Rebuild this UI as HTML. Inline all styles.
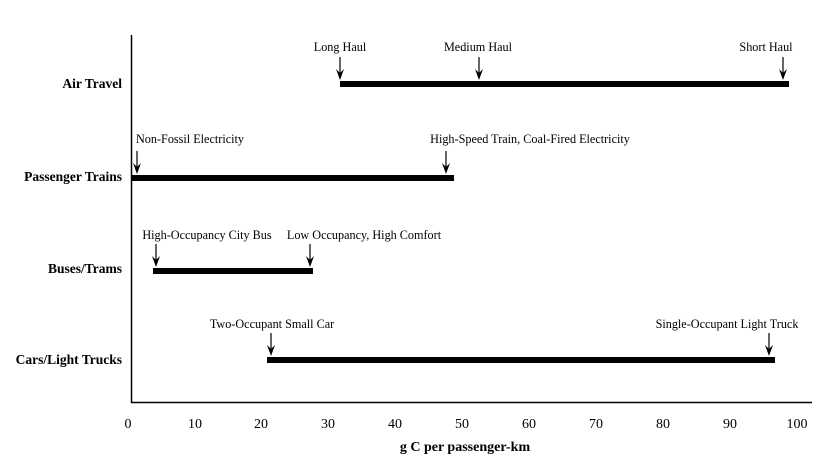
<!DOCTYPE html>
<html><head><style>body{margin:0;background:#fff}svg{display:block}</style></head><body>
<svg width="816" height="464" xmlns="http://www.w3.org/2000/svg" font-family="Liberation Serif, serif">
<line x1="131.5" y1="35" x2="131.5" y2="403" stroke="#000" stroke-width="1.5"/>
<line x1="131" y1="402.5" x2="812" y2="402.5" stroke="#000" stroke-width="1.5"/>
<g font-size="14" text-anchor="middle">
<text x="128" y="428">0</text><text x="195" y="428">10</text><text x="261" y="428">20</text><text x="328" y="428">30</text><text x="395" y="428">40</text><text x="462" y="428">50</text><text x="529" y="428">60</text><text x="596" y="428">70</text><text x="663" y="428">80</text><text x="730" y="428">90</text><text x="797" y="428">100</text>
</g>
<text x="465" y="451" font-size="14" font-weight="bold" text-anchor="middle">g C per passenger-km</text>
<g font-size="13.5" font-weight="bold" text-anchor="end">
<text x="122" y="88">Air Travel</text><text x="122" y="181">Passenger Trains</text><text x="122" y="273">Buses/Trams</text><text x="122" y="364">Cars/Light Trucks</text>
</g>
<g fill="#000">
<rect x="340" y="81" width="449" height="6"/>
<rect x="131" y="175" width="323" height="6"/>
<rect x="153" y="268" width="160" height="6"/>
<rect x="267" y="357" width="508" height="6"/>
</g>
<g stroke="#000" stroke-width="1.2">
<line x1="340" y1="57" x2="340" y2="76"/><line x1="479" y1="57" x2="479" y2="76"/><line x1="783" y1="57" x2="783" y2="76"/>
<line x1="137" y1="151" x2="137" y2="170"/><line x1="446" y1="151" x2="446" y2="170"/>
<line x1="156" y1="244" x2="156" y2="263"/><line x1="310" y1="244" x2="310" y2="263"/>
<line x1="271" y1="333" x2="271" y2="352"/><line x1="769" y1="333" x2="769" y2="352"/>
</g>
<g fill="#000">
<path d="M336,69 L340,80 L344,69 L340,73 Z"/><path d="M475,69 L479,80 L483,69 L479,73 Z"/><path d="M779,69 L783,80 L787,69 L783,73 Z"/>
<path d="M133,163 L137,174 L141,163 L137,167 Z"/><path d="M442,163 L446,174 L450,163 L446,167 Z"/>
<path d="M152,256 L156,267 L160,256 L156,260 Z"/><path d="M306,256 L310,267 L314,256 L310,260 Z"/>
<path d="M267,345 L271,356 L275,345 L271,349 Z"/><path d="M765,345 L769,356 L773,345 L769,349 Z"/>
</g>
<g font-size="12.2" text-anchor="middle">
<text x="340" y="51">Long Haul</text><text x="478" y="51">Medium Haul</text><text x="766" y="51">Short Haul</text>
<text x="190" y="143">Non-Fossil Electricity</text><text x="530" y="143">High-Speed Train, Coal-Fired Electricity</text>
<text x="207" y="239">High-Occupancy City Bus</text><text x="364" y="239">Low Occupancy, High Comfort</text>
<text x="272" y="328">Two-Occupant Small Car</text><text x="727" y="328">Single-Occupant Light Truck</text>
</g>
</svg>
</body></html>
